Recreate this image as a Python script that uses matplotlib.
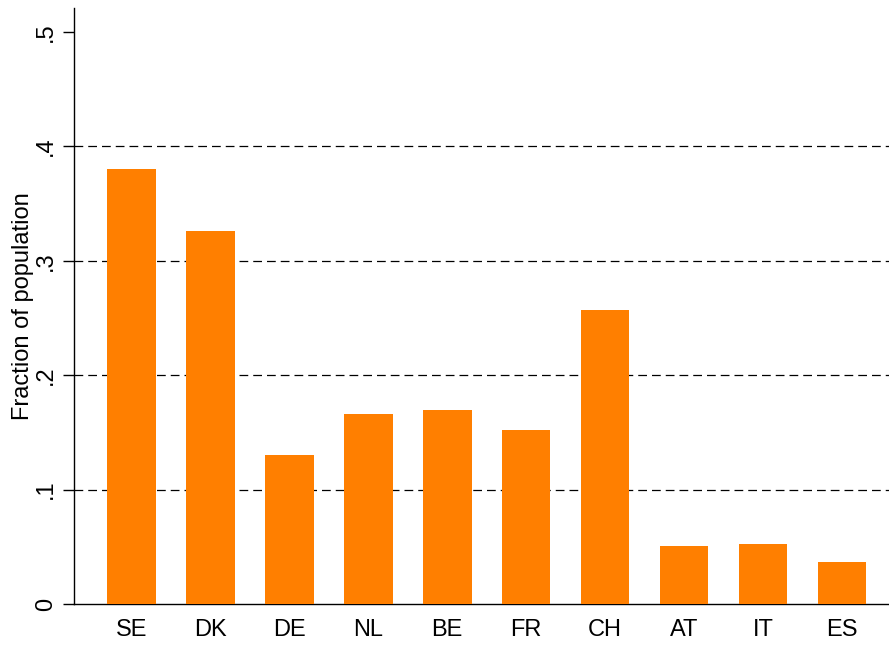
import numpy as np
import matplotlib
matplotlib.use("Agg")
import matplotlib.pyplot as plt

# data
countries = ["SE", "DK", "DE", "NL", "BE", "FR", "CH", "AT", "IT", "ES"]
fraction = [0.380, 0.326, 0.130, 0.166, 0.170, 0.152, 0.257, 0.051, 0.052, 0.037]
yticks = [0, 0.1, 0.2, 0.3, 0.4, 0.5]
ytick_labels = ["0", ".1", ".2", ".3", ".4", ".5"]

plt.rcParams['font.family'] = ['Liberation Sans', 'DejaVu Sans']

fig = plt.figure(figsize=(8.89, 6.45), dpi=100)
ax = fig.add_axes([0.0832, 0.0636, 0.9168, 0.924])

x = np.arange(len(countries))
ax.bar(x, fraction, width=0.615, color="#ff7f00", zorder=3)

# dashed grid lines (not at .5)
for v in yticks[1:5]:
    ax.axhline(v, color="black", linestyle=(0, (7, 4)), linewidth=0.9, zorder=1)

ax.set_xlim(-0.729, 9.596)
ax.set_ylim(0, 0.521)
ax.set_xticks(x)
ax.set_xticklabels(countries, fontsize=17)
ax.tick_params(axis="x", length=0, pad=11)
ax.set_yticks(yticks)
ax.set_yticklabels(ytick_labels, fontsize=17, rotation=90, va="center")
ax.tick_params(axis="y", length=8, width=1, pad=4)
ax.set_ylabel("Fraction of population", fontsize=17, labelpad=1)

ax.spines["top"].set_visible(False)
ax.spines["right"].set_visible(False)
ax.spines["left"].set_linewidth(1)
ax.spines["bottom"].set_linewidth(1)

fig.savefig("out.png", dpi=100)
